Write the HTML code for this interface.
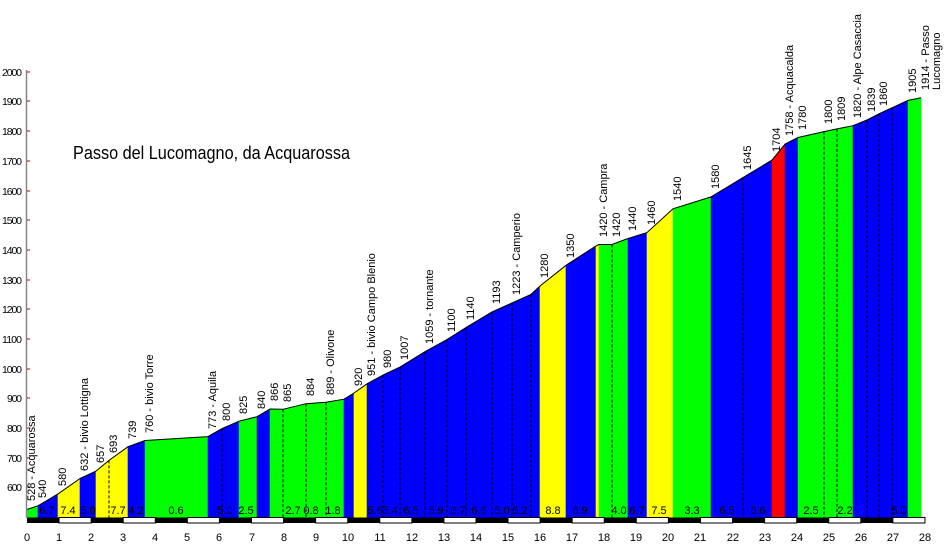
<!DOCTYPE html>
<html><head><meta charset="utf-8"><style>
html,body{margin:0;padding:0;background:#fff;}
svg{display:block;font-family:"Liberation Sans",Arial,sans-serif;}
</style></head><body>
<svg id="s" width="944" height="550" viewBox="0 0 944 550" xmlns="http://www.w3.org/2000/svg">
<g id="shapes"></g>
<line x1="26.5" y1="70" x2="26.5" y2="518" stroke="#888" stroke-width="1.5"/>
<g font-size="10.5" fill="#000" text-anchor="end" lengthAdjust="spacingAndGlyphs">
<text x="22" y="76" textLength="20">2000</text><text x="22" y="105" textLength="20">1900</text><text x="22" y="135" textLength="20">1800</text><text x="22" y="165" textLength="20">1700</text><text x="22" y="195" textLength="20">1600</text><text x="22" y="224" textLength="20">1500</text><text x="22" y="254" textLength="20">1400</text><text x="22" y="284" textLength="20">1300</text><text x="22" y="313" textLength="20">1200</text><text x="22" y="343" textLength="20">1100</text><text x="22" y="373" textLength="20">1000</text><text x="22" y="402" textLength="15">900</text><text x="22" y="432" textLength="15">800</text><text x="22" y="462" textLength="15">700</text><text x="22" y="491" textLength="15">600</text>
</g>
<g stroke="#c00" stroke-width="1">
<line x1="27" y1="72" x2="30" y2="72"/><line x1="27" y1="101" x2="30" y2="101"/><line x1="27" y1="131" x2="30" y2="131"/><line x1="27" y1="161" x2="30" y2="161"/><line x1="27" y1="191" x2="30" y2="191"/><line x1="27" y1="220" x2="30" y2="220"/><line x1="27" y1="250" x2="30" y2="250"/><line x1="27" y1="280" x2="30" y2="280"/><line x1="27" y1="309" x2="30" y2="309"/><line x1="27" y1="339" x2="30" y2="339"/><line x1="27" y1="369" x2="30" y2="369"/><line x1="27" y1="398" x2="30" y2="398"/><line x1="27" y1="428" x2="30" y2="428"/><line x1="27" y1="458" x2="30" y2="458"/><line x1="27" y1="487" x2="30" y2="487"/>
</g>
<text x="73" y="159" font-size="18" textLength="277" lengthAdjust="spacingAndGlyphs">Passo del Lucomagno, da Acquarossa</text>
<g font-size="11" fill="#000" text-anchor="middle">
<text x="27" y="541">0</text><text x="59" y="541">1</text><text x="91" y="541">2</text><text x="123" y="541">3</text><text x="155" y="541">4</text><text x="187" y="541">5</text><text x="219" y="541">6</text><text x="252" y="541">7</text><text x="284" y="541">8</text><text x="316" y="541">9</text><text x="348" y="541">10</text><text x="380" y="541">11</text><text x="412" y="541">12</text><text x="444" y="541">13</text><text x="476" y="541">14</text><text x="508" y="541">15</text><text x="540" y="541">16</text><text x="572" y="541">17</text><text x="604" y="541">18</text><text x="636" y="541">19</text><text x="668" y="541">20</text><text x="700" y="541">21</text><text x="733" y="541">22</text><text x="765" y="541">23</text><text x="797" y="541">24</text><text x="829" y="541">25</text><text x="861" y="541">26</text><text x="893" y="541">27</text><text x="925" y="541">28</text>
</g>
<g font-size="11" fill="#000" text-anchor="middle">
<text x="47" y="514">6.7</text><text x="68" y="514">7.4</text><text x="88" y="514">5.0</text><text x="118" y="514">7.7</text><text x="136" y="514">4.2</text><text x="176" y="514">0.6</text><text x="225" y="514">5.0</text><text x="246" y="514">2.5</text><text x="293" y="514">2.7</text><text x="311" y="514">0.8</text><text x="333" y="514">1.8</text><text x="375" y="514">5.8</text><text x="390" y="514">5.4</text><text x="411" y="514">6.5</text><text x="436" y="514">5.9</text><text x="458" y="514">6.7</text><text x="479" y="514">6.6</text><text x="502" y="514">5.0</text><text x="520" y="514">6.2</text><text x="553" y="514">8.8</text><text x="580" y="514">6.9</text><text x="619" y="514">4.0</text><text x="637" y="514">6.7</text><text x="659" y="514">7.5</text><text x="692" y="514">3.3</text><text x="727" y="514">6.5</text><text x="758" y="514">6.6</text><text x="811" y="514">2.5</text><text x="845" y="514">2.2</text><text x="899" y="514">5.0</text>
</g>
<g font-size="11" fill="#000">
<text transform="translate(35,501) rotate(-90)">528 - Acquarossa</text>
<text transform="translate(46,498) rotate(-90)">540</text>
<text transform="translate(66,486) rotate(-90)">580</text>
<text transform="translate(88,471) rotate(-90)">632 - bivio Lottigna</text>
<text transform="translate(104,463) rotate(-90)">657</text>
<text transform="translate(117,453) rotate(-90)">693</text>
<text transform="translate(136,439) rotate(-90)">739</text>
<text transform="translate(153,433) rotate(-90)">760 - bivio Torre</text>
<text transform="translate(216,429) rotate(-90)">773 - Aquila</text>
<text transform="translate(230,421) rotate(-90)">800</text>
<text transform="translate(247,414) rotate(-90)">825</text>
<text transform="translate(265,409) rotate(-90)">840</text>
<text transform="translate(278,401) rotate(-90)">866</text>
<text transform="translate(291,402) rotate(-90)">865</text>
<text transform="translate(314,396) rotate(-90)">884</text>
<text transform="translate(334,395) rotate(-90)">889 - Olivone</text>
<text transform="translate(362,386) rotate(-90)">920</text>
<text transform="translate(375,376) rotate(-90)">951 - bivio Campo Blenio</text>
<text transform="translate(391,368) rotate(-90)">980</text>
<text transform="translate(408,360) rotate(-90)">1007</text>
<text transform="translate(433,344) rotate(-90)">1059 - tornante</text>
<text transform="translate(455,332) rotate(-90)">1100</text>
<text transform="translate(474,320) rotate(-90)">1140</text>
<text transform="translate(500,304) rotate(-90)">1193</text>
<text transform="translate(520,295) rotate(-90)">1223 - Camperio</text>
<text transform="translate(548,278) rotate(-90)">1280</text>
<text transform="translate(574,258) rotate(-90)">1350</text>
<text transform="translate(607,237) rotate(-90)">1420 - Campra</text>
<text transform="translate(620,237) rotate(-90)">1420</text>
<text transform="translate(636,231) rotate(-90)">1440</text>
<text transform="translate(655,225) rotate(-90)">1460</text>
<text transform="translate(681,201) rotate(-90)">1540</text>
<text transform="translate(719,189) rotate(-90)">1580</text>
<text transform="translate(751,170) rotate(-90)">1645</text>
<text transform="translate(780,152) rotate(-90)">1704</text>
<text transform="translate(793,136) rotate(-90)">1758 - Acquacalda</text>
<text transform="translate(806,130) rotate(-90)">1780</text>
<text transform="translate(832,124) rotate(-90)">1800</text>
<text transform="translate(845,121) rotate(-90)">1809</text>
<text transform="translate(861,118) rotate(-90)">1820 - Alpe Casaccia</text>
<text transform="translate(875,112) rotate(-90)">1839</text>
<text transform="translate(887,106) rotate(-90)">1860</text>
<text transform="translate(916,93) rotate(-90)">1905</text>
<text transform="translate(929,90) rotate(-90)">1914 - Passo</text>
<text transform="translate(940,90) rotate(-90)">Lucomagno</text>
</g>
</svg>
<script>
var G='#00ff00',B='#0000ff',Y='#ffff00',R='#ff0000';
var P=[[27,528],[38,540,G],[58,580,B],[80,632,Y],[96,657,B],[109,693,Y,1],[128,739,Y],[145,760,B],[208,773,G],[222,800,B,1],[239,825,B],[257,840,G],[270,866,B],[283,865,G,1],[306,884,G,1],[326,889,G,1],[344,899,G],[354,920,B],[367,951,Y],[383,980,B,1],[400,1007,B,1],[425,1059,B,1],[447,1100,B,1],[466,1140,B,1],[492,1193,B,1],[512,1223,B,1],[531,1252,B,1],[540,1280,B],[566,1350,Y],[596,1415,B],[599,1420,Y],[612,1420,G,1],[628,1440,G],[647,1460,B],[673,1540,Y],[711,1580,G],[743,1645,B,1],[772,1704,B],[785,1758,R],[798,1780,B],[824,1800,G,1],[837,1809,G,1],[853,1820,G],[867,1839,B,1],[879,1860,B,1],[892,1880,B,1],[908,1905,B],[921,1914,G]];
function yy(e){return 517.7-(e-500)*0.297;}
var g=document.getElementById('shapes'),h='';
for(var i=1;i<P.length;i++){var a=P[i-1],b=P[i];
h+='<polygon points="'+a[0]+',518 '+a[0]+','+yy(a[1]).toFixed(1)+' '+b[0]+','+yy(b[1]).toFixed(1)+' '+b[0]+',518" fill="'+b[2]+'" stroke="'+b[2]+'" stroke-width="0.6"/>';}
for(i=1;i<P.length;i++){var p=P[i];if(p[3])h+='<line x1="'+p[0]+'" y1="'+yy(p[1]).toFixed(1)+'" x2="'+p[0]+'" y2="518" stroke="#000" stroke-dasharray="3,2" stroke-width="1"/>';}
var pts=P.map(function(p){return p[0]+','+yy(p[1]).toFixed(1)}).join(' ');
h+='<polyline points="'+pts+'" fill="none" stroke="#000" stroke-width="1"/>';
for(i=0;i<28;i++){var x0=27+i*32.07;
if(i%2==0)h+='<rect x="'+x0+'" y="517.5" width="32.07" height="5.5" fill="#000"/>';
else h+='<rect x="'+x0+'" y="517.5" width="32.07" height="5.5" fill="#fff" stroke="#000" stroke-width="1"/>';}
g.innerHTML=h;
</script>
</body></html>
